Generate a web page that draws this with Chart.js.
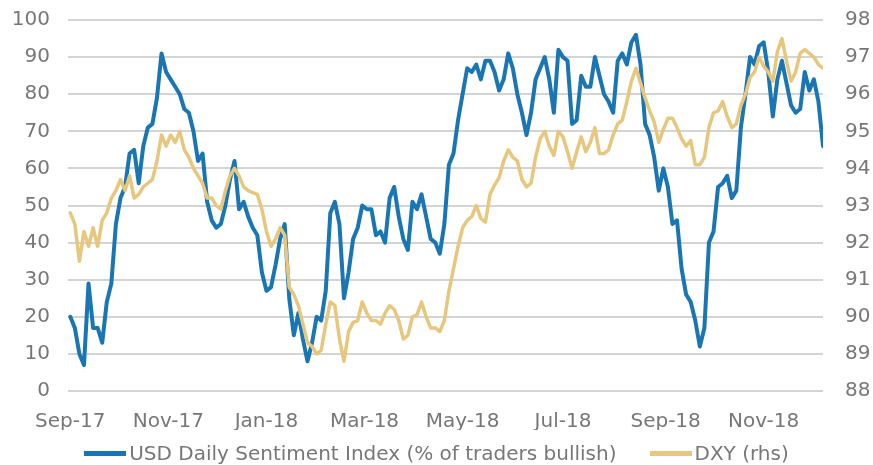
<!DOCTYPE html>
<html>
<head>
<meta charset="utf-8">
<script src="https://cdn.jsdelivr.net/npm/chart.js@4.4.1/dist/chart.umd.min.js"></script>
<style>
  body { margin: 0; background: #fff; }
  #wrap { position: relative; width: 873px; height: 465px; overflow: hidden; }
  #sentimentChart { display: block; }
  #legend {
    position: absolute; left: 0; right: 0; top: 441px;
    display: flex; justify-content: center; gap: 33px;
    font-family: "DejaVu Sans", sans-serif; font-size: 20px; line-height: 24px; color: #777;
  }
  .legend-item { display: flex; align-items: center; }
  .legend-line { width: 42px; height: 5px; margin-right: 3px; }
</style>
</head>
<body>
<div id="wrap">
  <canvas id="sentimentChart" width="873" height="465"></canvas>
  <div id="legend"></div>
</div>
<script>
// tick labels and their business-day position (0 = 1 Sep 2017)
const monthLabels = ["Sep-17", "Nov-17", "Jan-18", "Mar-18", "May-18", "Jul-18", "Sep-18", "Nov-18"];
const monthStartDay = [0, 43, 86, 129, 172, 216, 261, 304];

// one reading every 2 business days
const STEP_DAYS = 2;

// USD Daily Sentiment Index (% bullish), left axis
const dsiValues = [
  20, 17, 10, 7, 29, 17, 17, 13, 24, 29,
  45, 52, 55, 64, 65, 56, 66, 71, 72, 79,
  91, 86, 84, 82, 80, 76, 75, 70, 62, 64,
  51, 46, 44, 45, 50, 57, 62, 49, 51, 47,
  44, 42, 32, 27, 28, 34, 41, 45, 25, 15,
  21, 14, 8, 13, 20, 19, 27, 48, 51, 45,
  25, 32, 41, 44, 50, 49, 49, 42, 43, 40,
  52, 55, 47, 41, 38, 51, 49, 53, 47, 41,
  40, 37, 45, 61, 64, 73, 80, 87, 86, 88,
  84, 89, 89, 86, 81, 84, 91, 87, 80, 75,
  69, 75, 84, 87, 90, 84, 75, 92, 90, 89,
  72, 73, 85, 82, 82, 90, 85, 80, 78, 75,
  89, 91, 88, 94, 96, 88, 72, 69, 63, 54,
  60, 55, 45, 46, 33, 26, 24, 19, 12, 17,
  40, 43, 55, 56, 58, 52, 54, 71, 80, 90,
  88, 93, 94, 86, 74, 84, 89, 83, 77, 75,
  76, 86, 81, 84, 78, 66
];

// DXY index, right axis
const dxyValues = [
  92.8, 92.5, 91.5, 92.3, 91.9, 92.4, 91.9, 92.6, 92.8, 93.2,
  93.4, 93.7, 93.4, 93.8, 93.2, 93.3, 93.5, 93.6, 93.7, 94.2,
  94.9, 94.6, 94.9, 94.7, 95.0, 94.5, 94.3, 94.0, 93.8, 93.6,
  93.2, 93.2, 93.0, 92.9, 93.4, 93.8, 94.0, 93.8, 93.5, 93.4,
  93.35, 93.3, 92.9, 92.3, 91.9, 92.1, 92.4, 92.2, 90.8, 90.6,
  90.3, 89.8, 89.3, 89.2, 89.0, 89.1, 89.8, 90.4, 90.3, 89.4,
  88.8, 89.6, 89.85, 89.9, 90.4, 90.1, 89.9, 89.9, 89.8, 90.1,
  90.3, 90.2, 89.9, 89.4, 89.5, 90.0, 90.05, 90.4, 90.0, 89.7,
  89.7, 89.6, 89.9, 90.7, 91.3, 91.9, 92.4, 92.6, 92.7, 93.0,
  92.65, 92.55, 93.3, 93.55, 93.75, 94.2, 94.5, 94.3, 94.2, 93.7,
  93.5, 93.6, 94.3, 94.8, 95.0, 94.6, 94.35, 95.0, 94.85, 94.45,
  94.0, 94.45, 94.85, 94.45, 94.7, 95.1, 94.4, 94.4, 94.5, 94.9,
  95.2, 95.3, 95.8, 96.35, 96.7, 96.3, 95.9, 95.55, 95.25, 94.7,
  95.05, 95.35, 95.35, 95.1, 94.8, 94.6, 94.75, 94.1, 94.1, 94.3,
  95.1, 95.5, 95.55, 95.8, 95.4, 95.1, 95.2, 95.7, 96.0, 96.45,
  96.6, 97.0, 96.75, 96.6, 96.35, 97.15, 97.5, 96.9, 96.35, 96.6,
  97.1, 97.2, 97.1, 97.0, 96.8, 96.7
];

const COLORS = {
  blue: "#1a76b3",
  tan: "#e6c77d",
  text: "#777777",
  grid: "#d4d4d4",
};

const FONT = { family: "'DejaVu Sans', sans-serif", size: 20 };

function toPoints(values) {
  return values.map((v, i) => ({ x: i * STEP_DAYS, y: v }));
}

// gridlines from the left axis ticks, painted behind everything already drawn
const gridLinesPlugin = {
  id: "gridLines",
  afterDraw(chart) {
    const { ctx, chartArea, scales } = chart;
    ctx.save();
    ctx.globalCompositeOperation = "destination-over";
    ctx.strokeStyle = COLORS.grid;
    ctx.lineWidth = 2;
    scales.y.ticks.forEach((tick) => {
      const y = Math.round(scales.y.getPixelForValue(tick.value));
      ctx.beginPath();
      ctx.moveTo(chartArea.left, y);
      ctx.lineTo(chartArea.right, y);
      ctx.stroke();
    });
    ctx.restore();
  },
};

const datasets = [
  {
    label: "USD Daily Sentiment Index (% of traders bullish)",
    data: toPoints(dsiValues),
    borderColor: COLORS.blue,
    borderWidth: 4,
    yAxisID: "y",
    order: 1,
  },
  {
    label: "DXY (rhs)",
    data: toPoints(dxyValues),
    borderColor: COLORS.tan,
    borderWidth: 3.5,
    yAxisID: "y1",
    order: 0,
  },
];

const sentimentChart = new Chart(document.getElementById("sentimentChart"), {
  type: "line",
  data: { datasets: datasets },
  plugins: [gridLinesPlugin],
  options: {
    responsive: false,
    animation: false,
    layout: { padding: { top: 20, bottom: 35, left: 0, right: 0 } },
    elements: {
      point: { radius: 0 },
      line: { tension: 0, borderJoinStyle: "round", borderCapStyle: "round" },
    },
    plugins: {
      legend: { display: false },
      tooltip: { enabled: false },
    },
    scales: {
      x: {
        type: "linear",
        min: -1,
        max: 330,
        grid: { display: false, drawTicks: false },
        border: { display: false },
        afterBuildTicks: (scale) => {
          scale.ticks = monthStartDay.map((d) => ({ value: d }));
        },
        afterFit: (scale) => { scale.height = 39; },
        ticks: {
          padding: 19,
          maxRotation: 0,
          autoSkip: false,
          color: COLORS.text,
          font: FONT,
          callback: (value) => {
            const idx = monthStartDay.indexOf(value);
            return idx >= 0 ? monthLabels[idx] : "";
          },
        },
      },
      y: {
        position: "left",
        min: 0,
        max: 100,
        afterFit: (scale) => {
          scale.width = 68;
          scale.paddingTop = 0;
          scale.paddingBottom = 0;
        },
        grid: { display: false, drawTicks: false },
        border: { display: false },
        ticks: { stepSize: 10, padding: 18, color: COLORS.text, font: FONT },
      },
      y1: {
        position: "right",
        min: 88,
        max: 98,
        afterFit: (scale) => {
          scale.width = 50;
          scale.paddingTop = 0;
          scale.paddingBottom = 0;
        },
        grid: { display: false, drawTicks: false },
        border: { display: false },
        ticks: { stepSize: 1, padding: 22, color: COLORS.text, font: FONT },
      },
    },
  },
});

// legenda em HTML, igual ao gráfico original
const legendContainer = document.getElementById("legend");
let legendHTML = "";
datasets.forEach((ds) => {
  legendHTML += `
    <div class="legend-item">
      <span class="legend-line" style="background-color: ${ds.borderColor}"></span>
      <span>${ds.label}</span>
    </div>`;
});
legendContainer.innerHTML = legendHTML;
</script>
</body>
</html>
